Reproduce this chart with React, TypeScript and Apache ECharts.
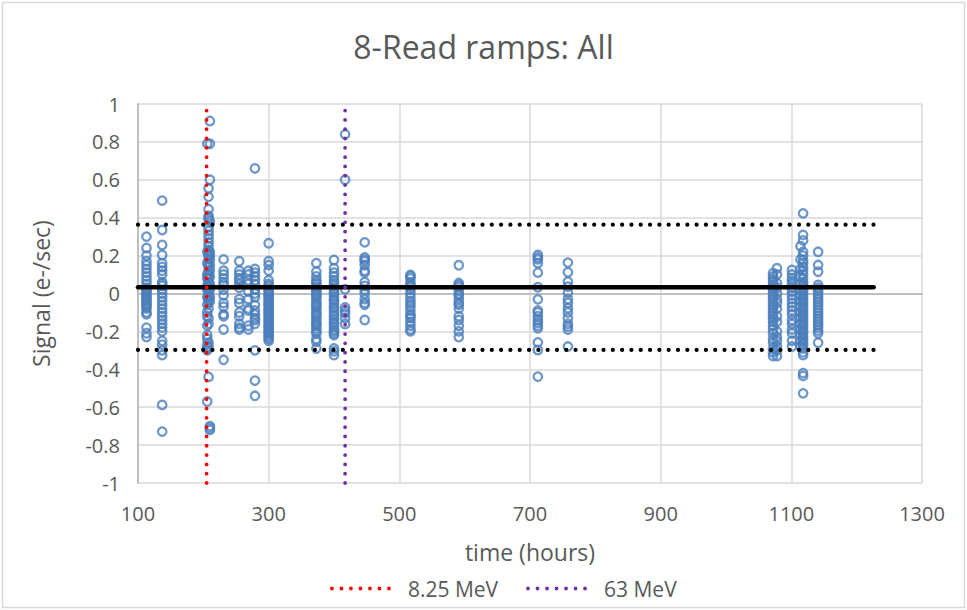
import React, { useEffect, useRef } from "react";
import * as echarts from "echarts";

// ---- data ----
const clusterHours = [
  113, 137, 206, 208, 210, 231, 255, 269, 279, 300, 373, 400, 417, 447, 517, 591,
  712, 758, 1072, 1078, 1101, 1114, 1118, 1141,
];
const clusterSignals: number[][] = [
  [0.30, 0.24, 0.2, 0.17, 0.15, 0.13, 0.11, 0.09, 0.07, 0.05, 0.03, 0.02, 0.01, 0.0, -0.01, -0.02, -0.03, -0.04, -0.05, -0.06, -0.07, -0.08, -0.1, -0.11, -0.18, -0.21, -0.23],
  [0.49, 0.335, 0.256, 0.203, 0.16, 0.14, 0.12, 0.1, 0.06, 0.05, 0.04, 0.02, 0.0, -0.02, -0.04, -0.06, -0.08, -0.1, -0.12, -0.14, -0.16, -0.18, -0.2, -0.25, -0.27, -0.3, -0.325, -0.588, -0.729],
  [0.79, 0.22, 0.16, 0.1, 0.08, 0.04, 0.02, -0.02, -0.06, -0.1, -0.12, -0.17, -0.22, -0.24, -0.27, -0.29, -0.3, -0.57],
  [0.555, 0.51, 0.445, 0.41, 0.4, 0.39, 0.35, 0.33, 0.31, 0.29, 0.27, 0.25, 0.23, 0.21, 0.2, 0.18, 0.16, 0.14, 0.12, 0.1, 0.08, 0.06, 0.05, 0.03, 0.01, -0.01, -0.03, -0.05, -0.08, -0.13, -0.16, -0.26, -0.28, -0.44],
  [0.91, 0.79, 0.6, 0.38, 0.22, 0.2, 0.18, 0.15, 0.12, 0.09, 0.05, 0.02, -0.02, -0.04, -0.7, -0.71, -0.72],
  [0.18, 0.12, 0.1, 0.08, 0.06, 0.045, 0.02, -0.01, -0.05, -0.07, -0.11, -0.12, -0.19, -0.35],
  [0.17, 0.12, 0.1, 0.08, 0.07, 0.05, 0.03, -0.03, -0.05, -0.1, -0.12, -0.16, -0.18, -0.19],
  [0.12, 0.1, 0.07, 0.05, 0.01, -0.03, -0.08, -0.09, -0.17, -0.19],
  [0.66, 0.13, 0.11, 0.09, 0.07, 0.05, 0.02, 0.0, -0.02, -0.06, -0.09, -0.11, -0.13, -0.14, -0.16, -0.3, -0.46, -0.54],
  [0.265, 0.17, 0.15, 0.12, 0.07, 0.05, 0.04, 0.02, 0.01, 0.0, -0.01, -0.02, -0.03, -0.04, -0.05, -0.06, -0.07, -0.08, -0.09, -0.1, -0.11, -0.12, -0.13, -0.14, -0.15, -0.16, -0.17, -0.18, -0.19, -0.2, -0.21, -0.22, -0.23, -0.24, -0.25],
  [0.16, 0.115, 0.09, 0.07, 0.06, 0.05, 0.035, 0.02, 0.01, 0.0, -0.01, -0.02, -0.035, -0.05, -0.06, -0.07, -0.085, -0.1, -0.11, -0.12, -0.135, -0.15, -0.16, -0.17, -0.185, -0.2, -0.21, -0.24, -0.255, -0.29],
  [0.177, 0.133, 0.11, 0.09, 0.07, 0.055, 0.04, 0.025, 0.01, 0.0, -0.015, -0.03, -0.04, -0.055, -0.07, -0.08, -0.095, -0.11, -0.12, -0.135, -0.15, -0.16, -0.175, -0.19, -0.2, -0.21, -0.22, -0.29, -0.305, -0.325],
  [0.84, 0.6, 0.022, -0.073, -0.09, -0.105, -0.13, -0.161],
  [0.27, 0.19, 0.18, 0.17, 0.15, 0.12, 0.11, 0.06, 0.04, 0.02, 0.0, -0.03, -0.05, -0.06, -0.14],
  [0.098, 0.09, 0.08, 0.06, 0.045, 0.035, 0.02, 0.0, -0.02, -0.04, -0.055, -0.07, -0.09, -0.11, -0.12, -0.13, -0.15, -0.17, -0.19, -0.2],
  [0.149, 0.055, 0.045, 0.035, 0.02, 0.0, -0.01, -0.03, -0.05, -0.06, -0.08, -0.12, -0.14, -0.17, -0.2, -0.23],
  [0.203, 0.19, 0.18, 0.16, 0.11, 0.033, -0.031, -0.09, -0.1, -0.12, -0.14, -0.155, -0.17, -0.184, -0.258, -0.298, -0.439],
  [0.163, 0.112, 0.062, 0.036, 0.004, -0.03, -0.05, -0.078, -0.1, -0.13, -0.16, -0.175, -0.19, -0.28],
  [0.107, 0.09, 0.075, 0.06, 0.045, 0.03, 0.015, 0.0, -0.015, -0.03, -0.045, -0.06, -0.075, -0.09, -0.105, -0.12, -0.135, -0.15, -0.17, -0.19, -0.21, -0.24, -0.26, -0.29, -0.31, -0.33],
  [0.133, 0.1, 0.055, 0.03, 0.0, -0.03, -0.05, -0.08, -0.12, -0.15, -0.2, -0.23, -0.25, -0.28, -0.3, -0.33],
  [0.124, 0.1, 0.08, 0.065, 0.05, 0.03, 0.01, -0.01, -0.03, -0.05, -0.07, -0.09, -0.11, -0.14, -0.16, -0.19, -0.21, -0.25, -0.28],
  [0.25, 0.18, 0.13, 0.09, 0.05, 0.02, -0.01, -0.04, -0.07, -0.1, -0.13, -0.16, -0.19, -0.22, -0.25, -0.28],
  [0.423, 0.309, 0.28, 0.22, 0.2, 0.177, 0.16, 0.14, 0.12, 0.1, 0.08, 0.06, 0.045, 0.03, 0.015, 0.0, -0.015, -0.03, -0.045, -0.06, -0.075, -0.09, -0.105, -0.12, -0.135, -0.15, -0.165, -0.18, -0.195, -0.21, -0.225, -0.24, -0.255, -0.27, -0.29, -0.31, -0.325, -0.42, -0.435, -0.527],
  [0.22, 0.15, 0.115, 0.045, 0.03, 0.015, 0.0, -0.015, -0.03, -0.045, -0.06, -0.075, -0.09, -0.105, -0.12, -0.135, -0.15, -0.165, -0.18, -0.195, -0.21, -0.26],
];

const meanLevel = 0.033;
const upperLimit = 0.363;
const lowerLimit = -0.298;
const limitStartHours = 100;
const limitEndHours = 1226;

const beamLabels = ["8.25 MeV", "63 MeV"];
const beamHours = [205, 417];
const beamColors = ["#ff0000", "#7030a0"];
const beamSpan = [-1, 0.98];

const xMin = 100;
const xMax = 1300;
const xStep = 200;
const yMin = -1;
const yMax = 1;
const yStep = 0.2;

const FONT = "'Open Sans', 'Noto Sans', sans-serif";
const TEXT = "#595959";

export default function App() {
  const ref = useRef<HTMLDivElement>(null);

  useEffect(() => {
    document.body.style.margin = "0";
    if (!ref.current) return;
    const chart = echarts.init(ref.current, undefined, { renderer: "svg" });

    const points: number[][] = [];
    clusterHours.forEach((h, i) => {
      clusterSignals[i].forEach((v) => points.push([h, v]));
    });

    const dotted = (color: string, width: number) => ({
      color,
      width,
      type: [0.01, 9.3] as number[],
      cap: "round" as const,
    });

    const hLine = (name: string, y: number, style: any) => ({
      name,
      type: "line",
      data: [
        [limitStartHours, y],
        [limitEndHours, y],
      ],
      symbol: "none",
      lineStyle: style,
      z: 3,
      silent: true,
    });

    const option: any = {
      animation: false,
      backgroundColor: "#ffffff",
      textStyle: { fontFamily: FONT },
      title: {
        text: "8-Read ramps: All",
        left: "center",
        top: 25,
        textStyle: { fontFamily: FONT, fontSize: 32, fontWeight: "normal", color: TEXT },
      },
      graphic: [
        {
          type: "rect",
          shape: { x: 2.5, y: 2.5, width: 962, height: 605 },
          style: { fill: "none", stroke: "#d9d9d9", lineWidth: 1.5 },
          silent: true,
        },
      ],
      legend: {
        data: beamLabels,
        left: 325,
        top: 573,
        itemWidth: 66,
        itemHeight: 14,
        itemGap: 28,
        itemStyle: { opacity: 0 },
        lineStyle: { width: 3.8, type: [0.01, 9.5], cap: "round" },
        textStyle: { fontFamily: FONT, fontSize: 21, color: TEXT, padding: [0, 0, 0, 5] },
      },
      grid: { left: 138, right: 45, top: 104, bottom: 127 },
      xAxis: {
        type: "value",
        min: xMin,
        max: xMax,
        interval: xStep,
        name: "time (hours)",
        nameLocation: "middle",
        nameGap: 57,
        nameTextStyle: { fontFamily: FONT, fontSize: 23, color: TEXT },
        axisLine: { show: true, lineStyle: { color: "#bfbfbf", width: 2 } },
        axisTick: { show: false },
        axisLabel: {
          fontFamily: FONT,
          fontSize: 20,
          color: TEXT,
          margin: 20,
          formatter: (v: number) => String(v),
        },
        splitLine: { show: true, lineStyle: { color: "#d9d9d9", width: 1.5 } },
      },
      yAxis: {
        type: "value",
        min: yMin,
        max: yMax,
        interval: yStep,
        name: "Signal (e-/sec)",
        nameLocation: "middle",
        nameRotate: 90,
        nameGap: 86,
        nameTextStyle: { fontFamily: FONT, fontSize: 23, color: TEXT },
        axisLine: { show: true, lineStyle: { color: "#bfbfbf", width: 2 } },
        axisTick: { show: false },
        axisLabel: {
          fontFamily: FONT,
          fontSize: 20,
          color: TEXT,
          margin: 18,
          formatter: (v: number) => String(Math.round(v * 10) / 10),
        },
        splitLine: { show: true, lineStyle: { color: "#d9d9d9", width: 1.5 } },
      },
      series: [
        {
          name: "Signal",
          type: "scatter",
          data: points,
          symbol: "circle",
          symbolSize: 8.5,
          itemStyle: { color: "rgba(255,255,255,0)", borderColor: "#4a7ebb", borderWidth: 2.3 },
          z: 2,
          silent: true,
        },
        hLine("Mean", meanLevel, { color: "#000000", width: 4.5, type: "solid", cap: "round" }),
        hLine("Upper", upperLimit, dotted("#000000", 4.2)),
        hLine("Lower", lowerLimit, dotted("#000000", 4.2)),
        ...beamLabels.map((label, i) => ({
          name: label,
          type: "line",
          data: [
            [beamHours[i], beamSpan[0]],
            [beamHours[i], beamSpan[1]],
          ],
          symbol: "none",
          color: beamColors[i],
          lineStyle: dotted(beamColors[i], 3.8),
          z: 4,
          silent: true,
        })),
      ],
    };

    chart.setOption(option);
    return () => chart.dispose();
  }, []);

  return <div ref={ref} style={{ width: 967, height: 610 }} />;
}
